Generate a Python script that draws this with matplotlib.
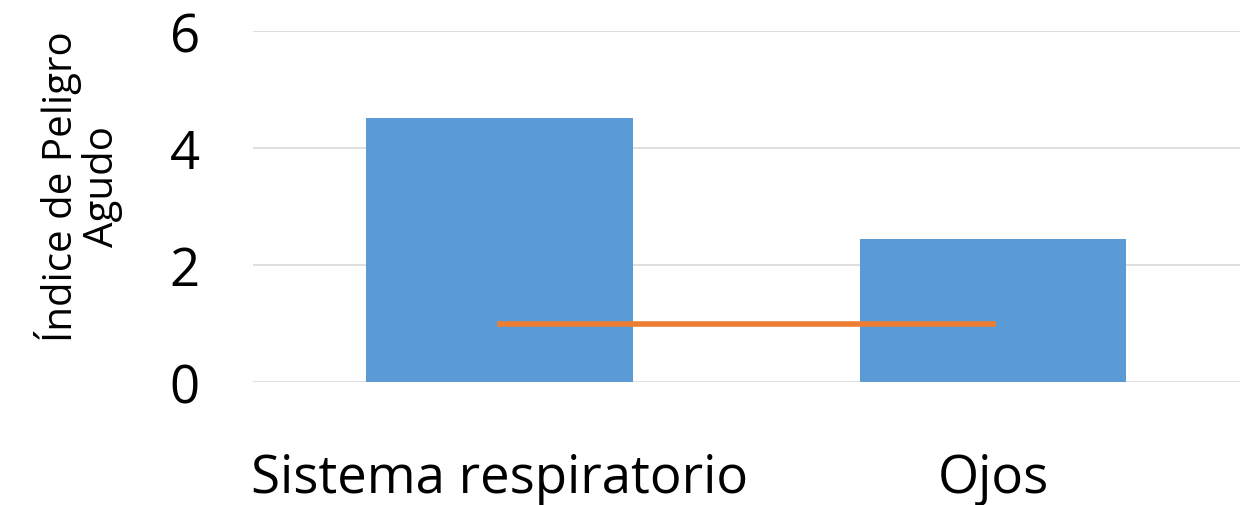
import matplotlib
matplotlib.use("Agg")
import matplotlib.pyplot as plt
import numpy as np

categories = ["Sistema respiratorio", "Ojos"]
values = [4.51, 2.44]
reference = [1.0, 1.0]

plt.rcParams['font.family'] = ['Open Sans', 'DejaVu Sans']

fig = plt.figure(figsize=(12.43, 5.06), dpi=100)
ax = fig.add_axes([0.2035, 0.243, 0.794, 0.694])

x = np.arange(len(categories))
ax.bar(x, values, width=0.54, color="#5b9bd5", zorder=2)
ax.plot(x, reference, color="#ed7d31", linewidth=4, zorder=3)

ax.set_xlim(-0.5, 1.5)
ax.set_ylim(0, 6)
ax.set_yticks([0, 2, 4, 6])
ax.set_xticks(x)
ax.set_xticklabels(categories)
ax.tick_params(axis='both', length=0, labelsize=38)
ax.tick_params(axis='x', pad=50)
ax.tick_params(axis='y', pad=60)
for lbl in ax.get_yticklabels():
    lbl.set_horizontalalignment('left')
ax.grid(axis='y', color="#d9d9d9", linewidth=1.2, zorder=0)
for s in ax.spines.values():
    s.set_visible(False)
ax.set_ylabel("Índice de Peligro\nAgudo", fontsize=29, linespacing=1.0)
ax.yaxis.set_label_coords(-0.132, 0.56)

fig.savefig("out.png", dpi=100)
